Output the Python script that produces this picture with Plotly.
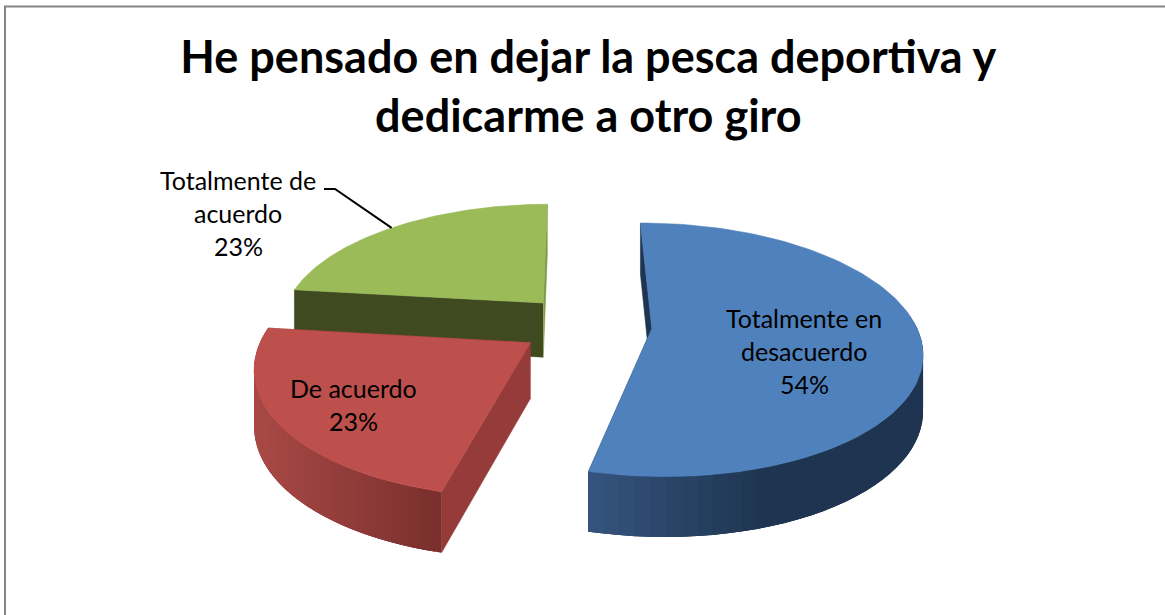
import numpy as np
import plotly.graph_objects as go

CATEGORIES = ["Totalmente en desacuerdo", "De acuerdo", "Totalmente de acuerdo"]
VALUES = [54, 23, 23]
LABEL_LINES = [["Totalmente en", "desacuerdo"], ["De acuerdo"], ["Totalmente de", "acuerdo"]]
TOP_COLORS = ["#4f81bd", "#bd4f4c", "#9bbb59"]
WALL_LEFT = [(54, 86, 128), (170, 74, 71), (125, 152, 70)]
WALL_RIGHT = [(30, 52, 80), (122, 48, 46), (125, 152, 70)]
EDGE_START = ["#1f3552", "#953c3a", "#3f4a21"]   # face along the slice's first edge
EDGE_END = ["#1f3552", "#953c3a", "#7d9a46"]     # face along the slice's last edge
TITLE = "He pensado en dejar la pesca deportiva y<br>dedicarme a otro giro"

# projection of the exploded 3-D pie
CX, CY, RX, RY, DEPTH, EXPLODE, THICK = 586, 325, 264, 122, 6.0, 0.25, 55
START_DEG = -0.5

fracs = np.array(VALUES) / sum(VALUES)
edges = START_DEG + 360 * np.concatenate([[0], np.cumsum(fracs)])


def project(X, Y, z=0.0):
    X, Y = np.asarray(X, float), np.asarray(Y, float)
    s = 1 / (1 - Y / DEPTH)
    return CX + RX * s * X, CY + RY * s * Y + THICK * np.sqrt(s) * z


def rim(i, deg):
    mid = np.radians((edges[i] + edges[i + 1]) / 2)
    t = np.radians(deg)
    return EXPLODE * np.sin(mid) + np.sin(t), -EXPLODE * np.cos(mid) - np.cos(t)


def apex(i):
    mid = np.radians((edges[i] + edges[i + 1]) / 2)
    return EXPLODE * np.sin(mid), -EXPLODE * np.cos(mid)


fig = go.Figure()


def poly(xs, ys, color, lw=0.6):
    fig.add_trace(go.Scatter(
        x=list(xs), y=list(ys), mode="lines", fill="toself", fillcolor=color,
        line=dict(color=color, width=lw), hoverinfo="skip", showlegend=False))


def draw_slice(i):
    a, b = edges[i], edges[i + 1]
    ax, ay = apex(i)
    # flat faces along both straight edges
    for deg, col in ((a, EDGE_START[i]), (b, EDGE_END[i])):
        rx_, ry_ = rim(i, deg)
        p = [project(ax, ay), project(rx_, ry_), project(rx_, ry_, 1), project(ax, ay, 1)]
        poly([q[0] for q in p], [q[1] for q in p], col)
    # curved outer wall, shaded in overlapping strips so no seams show
    degs = np.linspace(a, b, 70)
    degs = degs[(np.cos(np.radians(degs)) < 0.12)]
    if len(degs) > 2:
        xr = [float(project(*rim(i, d))[0]) for d in degs]
        lo, hi = min(xr), max(xr)
        for k in range(len(degs) - 1):
            d0, d1 = degs[k], degs[min(k + 3, len(degs) - 1)]
            mid_d = np.linspace(d0, d1, 4)
            Xm, Ym = rim(i, mid_d)
            tx, ty = project(Xm, Ym)
            bx, by = project(Xm, Ym, 1)
            xs = np.r_[tx, bx[::-1]]
            ys = np.r_[ty, by[::-1]]
            f = min(1.0, (float(tx[0]) - lo) / (hi - lo) * (1.8 if i == 0 else 1.0))
            c = [int(l + (r - l) * f) for l, r in zip(WALL_LEFT[i], WALL_RIGHT[i])]
            poly(xs, ys, f"rgb({c[0]},{c[1]},{c[2]})", lw=0)
    # top surface
    ds = np.linspace(a, b, 120)
    X, Y = rim(i, ds)
    tx, ty = project(np.r_[ax, X, ax], np.r_[ay, Y, ay])
    poly(tx, ty, TOP_COLORS[i])


for i in (2, 1, 0):
    draw_slice(i)

# leader line for the green slice
lx, ly = project(*rim(2, 317))
fig.add_trace(go.Scatter(x=[324, 335, float(lx)], y=[189, 189, float(ly)], mode="lines",
                         line=dict(color="#000000", width=2),
                         hoverinfo="skip", showlegend=False))

LABEL_POS = [(804, 318), (353, 388), (238, 180)]
LINE_H = 33
FONT = "Lato, Carlito, Calibri, sans-serif"
for lines, v, (px, py) in zip(LABEL_LINES, VALUES, LABEL_POS):
    for k, t in enumerate(lines + [f"{v}%"]):
        fig.add_annotation(x=px, y=py + k * LINE_H, text=t, showarrow=False,
                           xanchor="center", yanchor="middle",
                           font=dict(family=FONT, size=25, color="#000000"))

fig.update_layout(
    width=1165, height=615, margin=dict(l=0, r=0, t=0, b=0),
    paper_bgcolor="#ffffff", plot_bgcolor="#ffffff",
    title=dict(text=TITLE, x=0.505, xanchor="center", y=0.881, yanchor="middle",
               font=dict(family=FONT, size=45, color="#000000", weight="bold")),
    xaxis=dict(range=[0, 1165], visible=False, fixedrange=True),
    yaxis=dict(range=[615, 0], visible=False, fixedrange=True),
    shapes=[dict(type="path", path="M 5 615 L 5 6.5 L 1165 6.5", xref="x", yref="y",
                 line=dict(color="#868686", width=2))],
)
fig.write_html("out.html", config={"displayModeBar": False}, post_script=(
    "document.body.style.margin='0';document.body.style.overflow='hidden';"
    "document.documentElement.style.overflow='hidden';"))
